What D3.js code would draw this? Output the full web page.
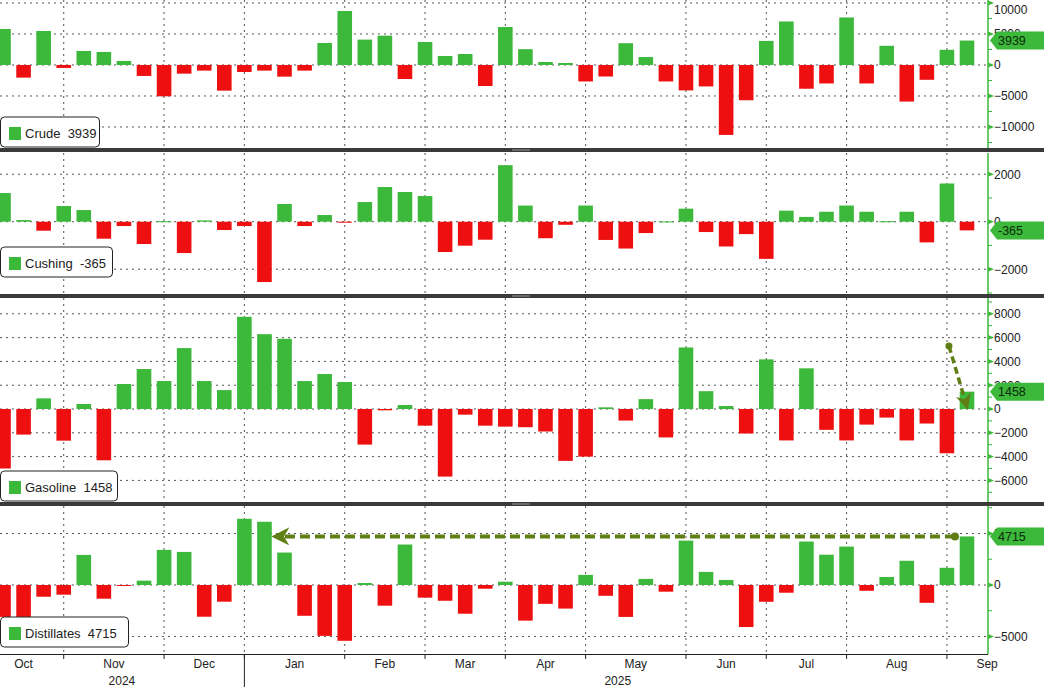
<!DOCTYPE html>
<html><head><meta charset="utf-8">
<script src="https://cdn.jsdelivr.net/npm/d3@7"></script>
<style>body{margin:0;background:#fff}svg{display:block;font-family:"Liberation Sans",Arial,sans-serif}</style>
</head><body><svg id="c" width="1044" height="687"></svg>
<script>
const weeks = d3.range(49).map(i => d3.timeDay.offset(new Date(2024,9,11), 7*i));
const crude = [5800,-2040,5480,-480,2260,2100,650,-1770,-5050,-1400,-910,-4140,-1130,-910,-1880,-910,3550,8710,4090,4730,-2260,3710,1450,1770,-3390,6120,2550,480,320,-2660,-1860,3510,1280,-2660,-4100,-3460,-11280,-5690,3880,7020,-3830,-2980,7660,-2980,3090,-5900,-2390,2450,3939];
const cushing = [1207,70,-379,660,491,-716,-182,-940,20,-1320,56,-350,-182,-2540,744,-182,281,-20,828,1460,1250,1080,-1277,-1010,-758,2380,681,-696,-130,681,-768,-1130,-478,10,550,-435,-1043,-522,-1565,464,203,420,681,420,20,420,-870,1609,-365];
const gasoline = [-5000,-2150,895,-2660,420,-4310,2100,3360,2350,5120,2350,1590,7750,6290,5900,2350,2940,2270,-2990,-110,335,-1400,-5680,-475,-1400,-1480,-1530,-1890,-4360,-4000,140,-970,830,-2390,5170,1500,250,-2060,4170,-2640,3420,-1750,-2640,-1310,-720,-2640,-1220,-3720,1458];
const distillates = [-3100,-3100,-1140,-940,2920,-1330,-60,420,3410,3210,-3080,-1620,6430,6140,3150,-2990,-4940,-5420,190,-2010,3930,-1230,-1530,-2790,-360,320,-3460,-1830,-2290,980,-1050,-3100,590,-650,4310,1270,490,-4080,-1630,-750,4220,2940,3730,-560,780,2350,-1730,1670,4715];
const crudeTicks = [10000,5000,0,-5000,-10000];
const cushingTicks = [2000,0,-2000];
const gasolineTicks = [8000,6000,4000,2000,0,-2000,-4000,-6000];
const distillatesTicks = [5000,0,-5000];
const monthGridIdx = [3,8,12,17,21,25,29,34,38,42,47];
const monthLabels = ["Oct","Nov","Dec","Jan","Feb","Mar","Apr","May","Jun","Jul","Aug","Sep"];
const yearLabels = [["2024",5.9],["2025",30.6]];

const GREEN="#3cb83a", RED="#ee1010", OLIVE="#5f7f14";
const svg=d3.select("#c");
const x=d3.scaleLinear().domain([0,48]).range([3.5,967]);
const AX=988;
const panels=[
 {name:"Crude",data:crude,ticks:crudeTicks,top:0,bot:148,dom:[-13390,10480],minor:2500,leg:[117,99]},
 {name:"Cushing",data:cushing,ticks:cushingTicks,top:153,bot:294,dom:[-3044,2893],minor:1000,leg:[247,112]},
 {name:"Gasoline",data:gasoline,ticks:gasolineTicks,top:298,bot:502,dom:[-7815,9330],minor:1000,leg:[471,117]},
 {name:"Distillates",data:distillates,ticks:distillatesTicks,top:506,bot:654,dom:[-6700,7670],minor:2500,leg:[617,128]}
];
panels.forEach((p,pi)=>{
 const y=d3.scaleLinear().domain(p.dom).range([p.bot,p.top]);
 p.y=y;
 const g=svg.append("g");
 g.selectAll(".hg").data(p.ticks).join("line").attr("x1",0).attr("x2",AX).attr("y1",d=>y(d)).attr("y2",d=>y(d))
  .attr("stroke","#555").attr("stroke-dasharray","2,4").attr("stroke-width",1);
 g.selectAll(".vg").data(monthGridIdx).join("line").attr("x1",d=>x(d)).attr("x2",d=>x(d)).attr("y1",p.top).attr("y2",p.bot)
  .attr("stroke","#555").attr("stroke-dasharray","2,4");
 g.selectAll("rect.b").data(p.data).join("rect").attr("x",(d,i)=>x(i)-7.3).attr("width",14.6)
  .attr("y",d=>y(Math.max(0,d))).attr("height",d=>Math.max(1,Math.abs(y(d)-y(0))))
  .attr("fill",d=>d>=0?GREEN:RED);
 const ax=d3.axisRight(y).tickValues(p.ticks).tickSize(0).tickPadding(6).tickFormat(d3.format("d"));
 const ag=g.append("g").attr("transform",`translate(${AX},0)`).call(ax);
 ag.select(".domain").remove();
 ag.selectAll("text").attr("fill","#222").style("font-size","12px")
   .attr("dy",d=>(y(d)-p.top<8)?"0.9em":"0.32em");
 const minors=d3.range(Math.ceil(p.dom[0]/p.minor)*p.minor,p.dom[1],p.minor);
 g.selectAll(".mt").data(minors).join("line").attr("x1",AX).attr("x2",AX+4).attr("y1",d=>y(d)).attr("y2",d=>y(d)).attr("stroke",GREEN);
 g.selectAll(".tk").data(p.ticks).join("path").attr("d",d=>`M${AX},${y(d)-2.5}L${AX+6},${y(d)}L${AX},${y(d)+2.5}Z`).attr("fill",GREEN);
 g.append("line").attr("x1",AX).attr("x2",AX).attr("y1",p.top).attr("y2",p.bot).attr("stroke",GREEN).attr("stroke-width",1.5);
 const last=p.data[p.data.length-1], ty=y(last);
 g.append("path").attr("d",`M${AX+2},${ty}L${AX+9},${ty-9}L1044,${ty-9}L1044,${ty+9}L${AX+9},${ty+9}Z`).attr("fill",GREEN);
 g.append("text").attr("x",AX+10).attr("y",ty+4.5).text(last).attr("fill","#0d2a0d").style("font-size","12.5px");
 g.append("rect").attr("x",0.5).attr("y",p.leg[0]).attr("width",p.leg[1]).attr("height",30).attr("rx",4)
  .attr("fill","#fff").attr("stroke","#222");
 g.append("rect").attr("x",9).attr("y",p.leg[0]+10).attr("width",12).attr("height",13).attr("fill",GREEN);
 g.append("text").attr("x",25).attr("y",p.leg[0]+21).text(p.name+"  "+last).attr("fill","#222").style("font-size","13px").attr("xml:space","preserve");
 if(pi<3){
  svg.append("rect").attr("x",0).attr("y",p.bot).attr("width",1044).attr("height",4).attr("fill","#3a3a3a");
  svg.append("line").attr("x1",512).attr("x2",530).attr("y1",p.bot+2).attr("y2",p.bot+2).attr("stroke","#999");
 }
});
const ay=panels[2].y;
svg.append("defs").html(`<marker id="ah" viewBox="0 0 10 10" refX="6" refY="5" markerWidth="4.5" markerHeight="4.5" orient="auto"><path d="M0,0L10,5L0,10L3,5Z" fill="${OLIVE}"/></marker>`);
svg.append("line").attr("x1",x(47.1)).attr("y1",ay(5300)).attr("x2",x(48)-1).attr("y2",ay(1458)+12)
 .attr("stroke",OLIVE).attr("stroke-width",3.5).attr("stroke-dasharray","7,4").attr("marker-end","url(#ah)");
svg.append("circle").attr("cx",x(47.1)).attr("cy",ay(5300)).attr("r",3.5).attr("fill",OLIVE);
const dy=panels[3].y;
svg.append("line").attr("x1",x(47.4)).attr("x2",x(13.7)).attr("y1",dy(4715)).attr("y2",dy(4715))
 .attr("stroke",OLIVE).attr("stroke-width",4).attr("stroke-dasharray","10,5").attr("marker-end","url(#ah)");
svg.append("circle").attr("cx",x(47.4)).attr("cy",dy(4715)).attr("r",4).attr("fill",OLIVE);
svg.append("line").attr("x1",0).attr("x2",AX).attr("y1",654.5).attr("y2",654.5).attr("stroke","#222");
svg.selectAll(".xt").data(monthGridIdx).join("line").attr("x1",d=>x(d)).attr("x2",d=>x(d)).attr("y1",654).attr("y2",659).attr("stroke","#222");
const bounds=[-1,...monthGridIdx,51];
svg.selectAll(".ml").data(monthLabels).join("text").attr("x",(d,i)=>x((bounds[i]+bounds[i+1])/2)).attr("y",668)
 .attr("text-anchor","middle").text(d=>d).attr("fill","#222").style("font-size","12px");
svg.selectAll(".yl").data(yearLabels).join("text").attr("x",d=>x(d[1])).attr("y",685).attr("text-anchor","middle").text(d=>d[0]).attr("fill","#222").style("font-size","12px");
svg.append("line").attr("x1",x(12)).attr("x2",x(12)).attr("y1",654).attr("y2",687).attr("stroke","#222");
</script></body></html>
